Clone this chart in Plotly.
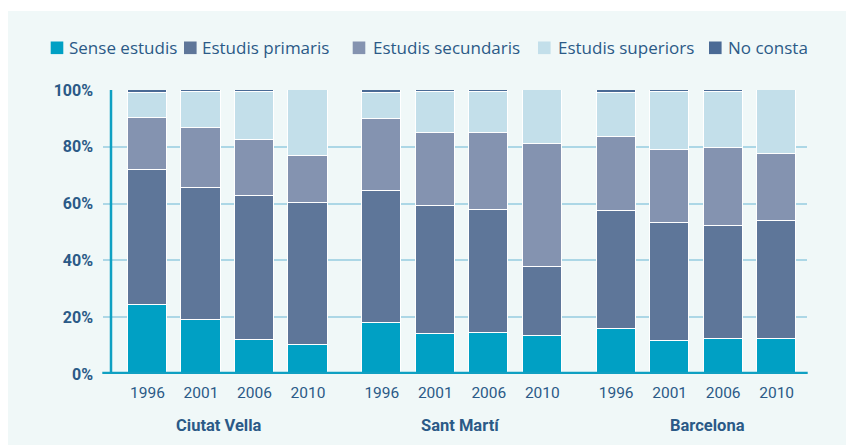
import plotly.graph_objects as go

# ---------------- data ----------------
groups = ["Ciutat Vella", "Sant Martí", "Barcelona"]
years = ["1996", "2001", "2006", "2010"]
series_names = ["Sense estudis", "Estudis primaris", "Estudis secundaris",
                "Estudis superiors", "No consta"]

sense_estudis = [24.3, 19.1, 11.9, 10.2, 17.8, 14.0, 14.6, 13.4, 16.0, 11.7, 12.3, 12.3]
estudis_primaris = [47.4, 46.5, 50.8, 50.0, 46.6, 45.2, 43.1, 24.4, 41.4, 41.4, 39.8, 41.7]
estudis_secundaris = [18.6, 20.9, 19.8, 16.7, 25.3, 25.8, 27.3, 43.2, 26.2, 25.9, 27.4, 23.5]
estudis_superiors = [8.5, 12.7, 16.8, 23.1, 9.4, 14.3, 14.3, 19.0, 15.5, 20.3, 19.8, 22.5]
no_consta = [1.2, 0.8, 0.7, 0.0, 0.9, 0.7, 0.7, 0.0, 0.9, 0.7, 0.7, 0.0]

y_ticks = [0, 20, 40, 60, 80, 100]

# ---------------- style ----------------
colors = ["#00a0c4", "#5e7699", "#8493b0", "#c3dfea", "#4a6a95"]
TEXT = "#2b5a87"
PANEL = "#f0f8f8"
AXIS = "#0fa0c2"
GRID = "#acd7e6"
FONT_NARROW = "Roboto, Liberation Sans, sans-serif"
FONT_LEGEND = "Open Sans, Noto Sans, sans-serif"

OFF = 8  # page body margin
W, H = 846, 437
L, T = 103 - OFF, 90 - OFF
R, B = W - (807 - OFF), H - (374 - OFF)
PW, PH = W - L - R, H - T - B


def pxx(p):
    return (p - OFF - L) / PW


def pxy(p):
    return (H - B - (p - OFF)) / PH


GAP = 0.38
xs = [g * (len(years) + GAP) + i for g in range(len(groups)) for i in range(len(years))]
xlabels = [y for _ in groups for y in years]

values = [sense_estudis, estudis_primaris, estudis_secundaris, estudis_superiors, no_consta]

fig = go.Figure()
for name, vals, col in zip(series_names, values, colors):
    fig.add_trace(go.Bar(
        x=xs, y=vals, name=name, width=0.73,
        marker=dict(color=col, line=dict(color="white", width=1.5)),
        showlegend=False,
    ))

shapes = []
annotations = []

# background panel
shapes.append(dict(type="rect", xref="paper", yref="paper", layer="below",
                   x0=pxx(0), x1=pxx(860), y0=pxy(460), y1=pxy(11),
                   fillcolor=PANEL, line=dict(width=0)))

# axis lines
x_per_px = 1 / 53.5
x_left = xs[0] - (147.5 - 111) * x_per_px
shapes.append(dict(type="line", xref="x", yref="y", x0=x_left, x1=x_left, y0=0, y1=100,
                   line=dict(color=AXIS, width=2.5)))
shapes.append(dict(type="line", xref="paper", yref="y", x0=pxx(102.3), x1=pxx(807.7), y0=0, y1=0,
                   line=dict(color=AXIS, width=4.5)))

# custom legend
leg_sq_x = [50.7, 184.0, 352.7, 538.0, 709.0]
leg_tx_x = [66.5, 200.0, 370.5, 556.0, 725.5]
leg_y = 47.8
sq = 12.6
for name, col, sx, tx in zip(series_names, colors, leg_sq_x, leg_tx_x):
    shapes.append(dict(type="rect", xref="paper", yref="paper",
                       x0=pxx(sx), x1=pxx(sx + sq), y0=pxy(leg_y + sq / 2), y1=pxy(leg_y - sq / 2),
                       fillcolor=col, line=dict(width=0)))
    annotations.append(dict(text=name, xref="paper", yref="paper", x=pxx(tx), y=pxy(leg_y),
                            xanchor="left", yanchor="middle", showarrow=False,
                            font=dict(family=FONT_LEGEND, size=17, color=TEXT)))

# group labels
group_cx = [218.5, 460.0, 707.0]
for gname, cx in zip(groups, group_cx):
    annotations.append(dict(text="<b>%s</b>" % gname, xref="paper", yref="paper",
                            x=pxx(cx), y=pxy(425), xanchor="center", yanchor="middle",
                            showarrow=False,
                            font=dict(family=FONT_NARROW, size=16.5, color=TEXT)))

x_range = [xs[0] - (147.5 - 103) * x_per_px, xs[0] + (807 - 147.5) * x_per_px]

fig.update_layout(
    width=W, height=H,
    margin=dict(l=L, r=R, t=T, b=B, pad=0),
    paper_bgcolor="white", plot_bgcolor="rgba(0,0,0,0)",
    barmode="stack", bargap=0,
    showlegend=False,
    shapes=shapes, annotations=annotations,
    xaxis=dict(range=x_range, tickmode="array", tickvals=xs, ticktext=xlabels,
               showgrid=False, zeroline=False, showline=False, ticks="",
               ticklabelstandoff=7,
               tickfont=dict(family=FONT_NARROW, size=15.5, color=TEXT)),
    yaxis=dict(range=[0, 100], tickmode="array", tickvals=y_ticks,
               ticktext=["<b>%d%%</b>" % v for v in y_ticks],
               showgrid=True, gridcolor=GRID, gridwidth=2, zeroline=False,
               showline=False, ticks="", ticklabelstandoff=9,
               tickfont=dict(family=FONT_NARROW, size=16, color=TEXT)),
)

fig.write_html("out.html")
